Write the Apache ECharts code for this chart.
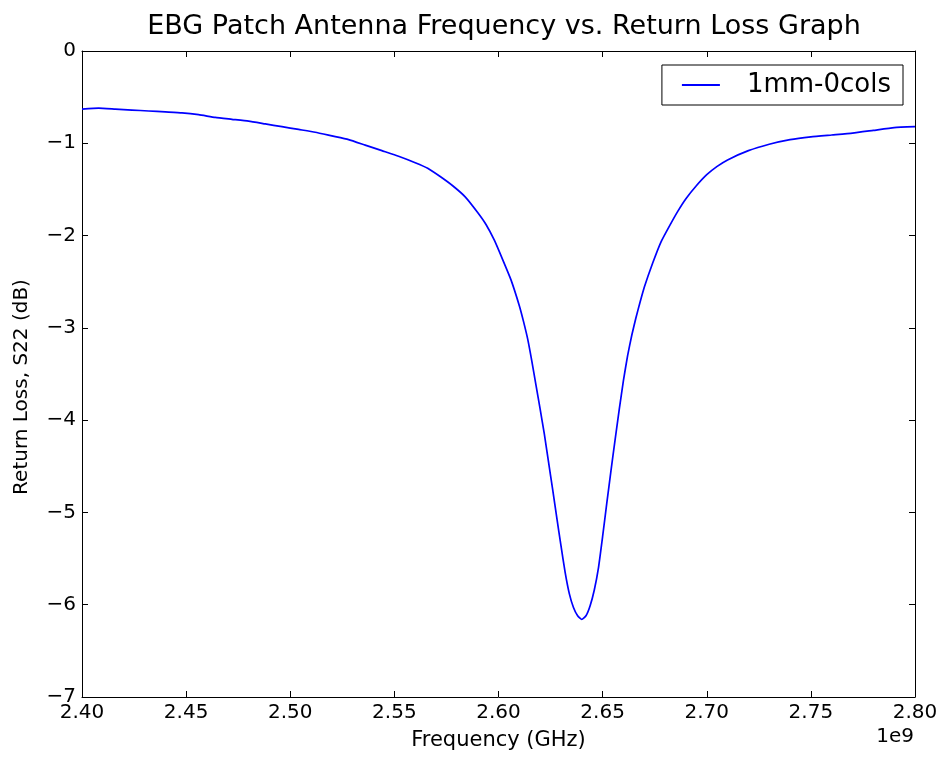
<!DOCTYPE html>
<html>
<head>
<meta charset="utf-8">
<script src="https://cdn.jsdelivr.net/npm/echarts@6/dist/echarts.min.js"></script>
<style>html,body{margin:0;padding:0;background:#fff;}#c{width:947px;height:758px;}</style>
</head>
<body>
<div id="c"></div>
<script>
const seriesName = '1mm-0cols';
const freqGHz = [2.400,2.408,2.416,2.424,2.432,2.440,2.448,2.456,2.464,2.472,2.480,2.488,2.496,2.504,2.512,2.520,2.528,2.536,2.544,2.552,2.560,2.566,2.572,2.578,2.584,2.590,2.594,2.598,2.602,2.606,2.610,2.612,2.614,2.616,2.618,2.620,2.622,2.624,2.626,2.628,2.630,2.632,2.634,2.636,2.638,2.640,2.642,2.644,2.646,2.648,2.650,2.652,2.654,2.656,2.658,2.660,2.662,2.664,2.666,2.668,2.670,2.674,2.678,2.682,2.686,2.690,2.695,2.700,2.705,2.710,2.720,2.730,2.740,2.750,2.760,2.770,2.780,2.790,2.800];
const returnLoss = [-0.63,-0.62,-0.63,-0.64,-0.65,-0.66,-0.67,-0.69,-0.72,-0.74,-0.76,-0.79,-0.82,-0.85,-0.88,-0.92,-0.96,-1.02,-1.08,-1.14,-1.21,-1.27,-1.36,-1.46,-1.58,-1.75,-1.88,-2.05,-2.26,-2.48,-2.76,-2.93,-3.12,-3.36,-3.62,-3.88,-4.15,-4.45,-4.75,-5.06,-5.36,-5.65,-5.88,-6.03,-6.12,-6.16,-6.12,-6.01,-5.84,-5.60,-5.26,-4.90,-4.55,-4.21,-3.88,-3.57,-3.30,-3.08,-2.89,-2.72,-2.56,-2.30,-2.07,-1.90,-1.74,-1.60,-1.46,-1.34,-1.25,-1.18,-1.08,-1.01,-0.96,-0.93,-0.91,-0.89,-0.86,-0.83,-0.82];
const xTicks = [2.40,2.45,2.50,2.55,2.60,2.65,2.70,2.75,2.80];
const yTicks = [0,-1,-2,-3,-4,-5,-6,-7];

const FONT = 'DejaVu Sans';
const chart = echarts.init(document.getElementById('c'), null, {renderer:'canvas'});
const data = freqGHz.map((f,i)=>[f, returnLoss[i]]);
const tickCommon = {show:true, inside:true, length:6, lineStyle:{color:'#000', width:1}};
const axLine = {show:true, onZero:false, lineStyle:{color:'#000', width:1}};
chart.setOption({
  animation:false,
  backgroundColor:'#fff',
  title:{text:'EBG Patch Antenna Frequency vs. Return Loss Graph', left:499, textAlign:'center', top:8,
    textStyle:{fontFamily:FONT, fontSize:27, fontWeight:'normal', color:'#000'}},
  legend:{data:[{name:seriesName, icon:'rect'}], right:44, top:65, orient:'horizontal',
    itemWidth:38, itemHeight:2, itemGap:10, padding:[7,12,7,20],
    borderColor:'#000', borderWidth:1, backgroundColor:'#fff',
    textStyle:{fontFamily:FONT, fontSize:26, color:'#000', padding:[0,0,0,22]}},
  grid:{left:82, right:32, top:51, bottom:61, containLabel:false},
  xAxis:[{type:'value', min:2.4, max:2.8, interval:0.05, position:'bottom',
      name:'Frequency (GHz)', nameLocation:'middle', nameGap:33,
      nameTextStyle:{fontFamily:FONT, fontSize:21, color:'#000'},
      axisLine:axLine, axisTick:tickCommon, splitLine:{show:false},
      axisLabel:{fontFamily:FONT, fontSize:20, color:'#000', margin:6,
        formatter:v=>{const t=xTicks.find(x=>Math.abs(x-v)<1e-6); return t===undefined?'':t.toFixed(2);}}},
    {type:'value', min:2.4, max:2.8, interval:0.05, position:'top',
      axisLine:axLine, axisTick:tickCommon, axisLabel:{show:false}, splitLine:{show:false}}],
  yAxis:[{type:'value', min:-7, max:0, interval:1, position:'left',
      name:'Return Loss, S22 (dB)', nameLocation:'middle', nameGap:50, nameRotate:90,
      nameTextStyle:{fontFamily:FONT, fontSize:20, color:'#000', padding:[0,26,0,0]},
      axisLine:axLine, axisTick:tickCommon, splitLine:{show:false},
      axisLabel:{fontFamily:FONT, fontSize:20, color:'#000', margin:6,
        formatter:v=>{const t=yTicks.find(y=>Math.abs(y-v)<1e-6); return t===undefined?'':(t<0?'\u2212'+Math.abs(t):String(t));}}},
    {type:'value', min:-7, max:0, interval:1, position:'right',
      axisLine:axLine, axisTick:tickCommon, axisLabel:{show:false}, splitLine:{show:false}}],
  graphic:[{type:'text', right:33, top:727, style:{text:'1e9', fontFamily:FONT, fontSize:20, fill:'#000', textAlign:'right'}}],
  series:[{name:seriesName, type:'line', data:data, showSymbol:false, smooth:0.15,
    lineStyle:{color:'#0000ff', width:1.7}, itemStyle:{color:'#0000ff'}}]
});
</script>
</body>
</html>
